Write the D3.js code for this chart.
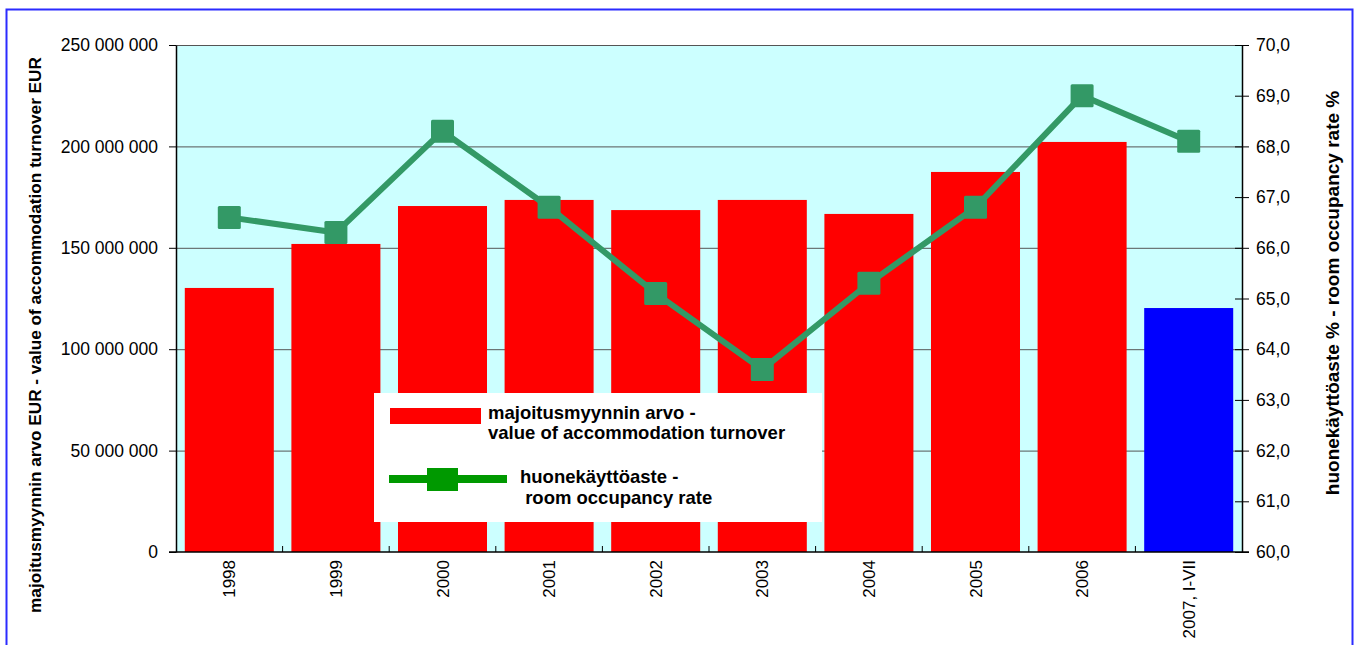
<!DOCTYPE html>
<html>
<head>
<meta charset="utf-8">
<script src="https://cdn.jsdelivr.net/npm/d3@7"></script>
<style>
  body { margin: 0; background: #fff; }
  text { font-family: "Liberation Sans", Arial, sans-serif; }
</style>
</head>
<body>
<div id="chart"></div>
<script>
// data
const years = ["1998", "1999", "2000", "2001", "2002", "2003", "2004", "2005", "2006", "2007, I-VII"];
const turnover = [130200000, 151900000, 170600000, 173600000, 168600000, 173600000, 166700000, 187400000, 202200000, 120300000];
const occupancy = [66.6, 66.3, 68.3, 66.8, 65.1, 63.6, 65.3, 66.8, 69.0, 68.1];
const leftTicks = [0, 50000000, 100000000, 150000000, 200000000, 250000000];
const rightTicks = [60, 61, 62, 63, 64, 65, 66, 67, 68, 69, 70];

const W = 1363, H = 645;
const margin = {top: 45, right: 121, bottom: 93, left: 176},
    width = W - margin.left - margin.right,
    height = H - margin.top - margin.bottom;

const svg = d3.select("#chart")
    .append("svg")
    .attr("width", W)
    .attr("height", H);

// outer frame (runs off the bottom)
svg.append("rect")
    .attr("x", 6.5).attr("y", 9.5)
    .attr("width", 1346).attr("height", 700)
    .attr("fill", "none")
    .attr("stroke", "#2b2bff")
    .attr("stroke-width", 2);

const g = svg.append("g")
    .attr("transform", `translate(${margin.left},${margin.top})`);

const x = d3.scaleBand()
    .domain(years)
    .range([0, width])
    .paddingInner(0.165)
    .paddingOuter(0.0825);

const y = d3.scaleLinear()
    .domain([0, 250000000])
    .range([height, 0]);

const y2 = d3.scaleLinear()
    .domain([60, 70])
    .range([height, 0]);

// plot background
g.append("rect")
    .attr("width", width)
    .attr("height", height)
    .attr("fill", "#ccffff");

// gridlines
g.selectAll(".grid")
    .data(leftTicks.slice(1))
    .join("line")
    .attr("x1", 0).attr("x2", width)
    .attr("y1", d => y(d) + 0.5).attr("y2", d => y(d) + 0.5)
    .attr("stroke", "#555")
    .attr("stroke-width", 1);

// bars
g.selectAll(".bar")
    .data(turnover)
    .join("rect")
    .attr("x", (d, i) => x(years[i]))
    .attr("y", d => y(d))
    .attr("width", x.bandwidth())
    .attr("height", d => height - y(d))
    .attr("fill", (d, i) => i === years.length - 1 ? "#0000ff" : "#ff0000");

// left axis
const fmt = d => d3.format(",")(d).replace(/,/g, " ");
const yAxis = g.append("g")
    .call(d3.axisLeft(y).tickValues(leftTicks).tickFormat(fmt).tickSize(7).tickSizeOuter(0));
yAxis.select(".domain").attr("stroke", "#000").attr("stroke-width", 1.5);
yAxis.selectAll("line").attr("stroke", "#000");
yAxis.selectAll("text").style("font-size", "17.5px").attr("fill", "#000").attr("x", -18);

// right axis
const y2Axis = g.append("g")
    .attr("transform", `translate(${width},0)`)
    .call(d3.axisRight(y2).tickValues(rightTicks).tickFormat(d => d.toFixed(1).replace(".", ",")).tickSize(7).tickSizeOuter(0));
y2Axis.select(".domain").attr("stroke", "#000").attr("stroke-width", 1.5);
y2Axis.selectAll("line").attr("stroke", "#000").attr("x1", -7);
y2Axis.selectAll("text").style("font-size", "17.5px").attr("fill", "#000").attr("x", 14);

// bottom axis with ticks between categories
g.append("line")
    .attr("x1", -7).attr("x2", width + 7)
    .attr("y1", height).attr("y2", height)
    .attr("stroke", "#000").attr("stroke-width", 1.5);
const step = x.step();
g.selectAll(".xtick")
    .data(d3.range(1, years.length))
    .join("line")
    .attr("x1", d => d * step).attr("x2", d => d * step)
    .attr("y1", height - 6).attr("y2", height)
    .attr("stroke", "#000");
g.selectAll(".xlabel")
    .data(years)
    .join("text")
    .attr("transform", d => `translate(${x(d) + x.bandwidth() / 2 + 6},${height + 8}) rotate(-90)`)
    .attr("text-anchor", "end")
    .style("font-size", "17px")
    .text(d => d);

// occupancy line
const line = d3.line()
    .x((d, i) => x(years[i]) + x.bandwidth() / 2)
    .y(d => y2(d));

g.append("path")
    .datum(occupancy)
    .attr("fill", "none")
    .attr("stroke", "#339966")
    .attr("stroke-width", 6)
    .attr("d", line);

g.selectAll(".marker")
    .data(occupancy)
    .join("rect")
    .attr("x", (d, i) => x(years[i]) + x.bandwidth() / 2 - 11.5)
    .attr("y", d => y2(d) - 11.5)
    .attr("width", 23).attr("height", 23)
    .attr("rx", 1.5)
    .attr("fill", "#339966");

// axis titles
svg.append("text")
    .attr("transform", "translate(41,335) rotate(-90)")
    .attr("text-anchor", "middle")
    .style("font-size", "17.2px").style("font-weight", "bold")
    .text("majoitusmyynnin arvo EUR - value of accommodation turnover EUR");

svg.append("text")
    .attr("transform", "translate(1339,293) rotate(-90)")
    .attr("text-anchor", "middle")
    .style("font-size", "19px").style("font-weight", "bold")
    .text("huonekäyttöaste % - room occupancy rate %");

// legend
const lg = svg.append("g").attr("transform", "translate(374,393)");
lg.append("rect").attr("width", 448).attr("height", 129).attr("fill", "#fff");
lg.append("rect").attr("x", 16).attr("y", 15).attr("width", 91).attr("height", 16).attr("fill", "#ff0000");
lg.append("text").attr("x", 114).attr("y", 26).style("font-size", "18.5px").style("font-weight", "bold")
    .text("majoitusmyynnin arvo -");
lg.append("text").attr("x", 114).attr("y", 46).style("font-size", "18.5px").style("font-weight", "bold")
    .text("value of accommodation turnover");
lg.append("line").attr("x1", 15).attr("x2", 133).attr("y1", 86).attr("y2", 86)
    .attr("stroke", "#009900").attr("stroke-width", 8);
lg.append("rect").attr("x", 53).attr("y", 75).attr("width", 31).attr("height", 23).attr("fill", "#009900");
lg.append("text").attr("x", 146).attr("y", 90).style("font-size", "18.5px").style("font-weight", "bold")
    .text("huonekäyttöaste -");
lg.append("text").attr("x", 146).attr("y", 111).style("font-size", "18.5px").style("font-weight", "bold")
    .text(" room occupancy rate")
    .attr("xml:space", "preserve").style("white-space", "pre");
</script>
</body>
</html>
